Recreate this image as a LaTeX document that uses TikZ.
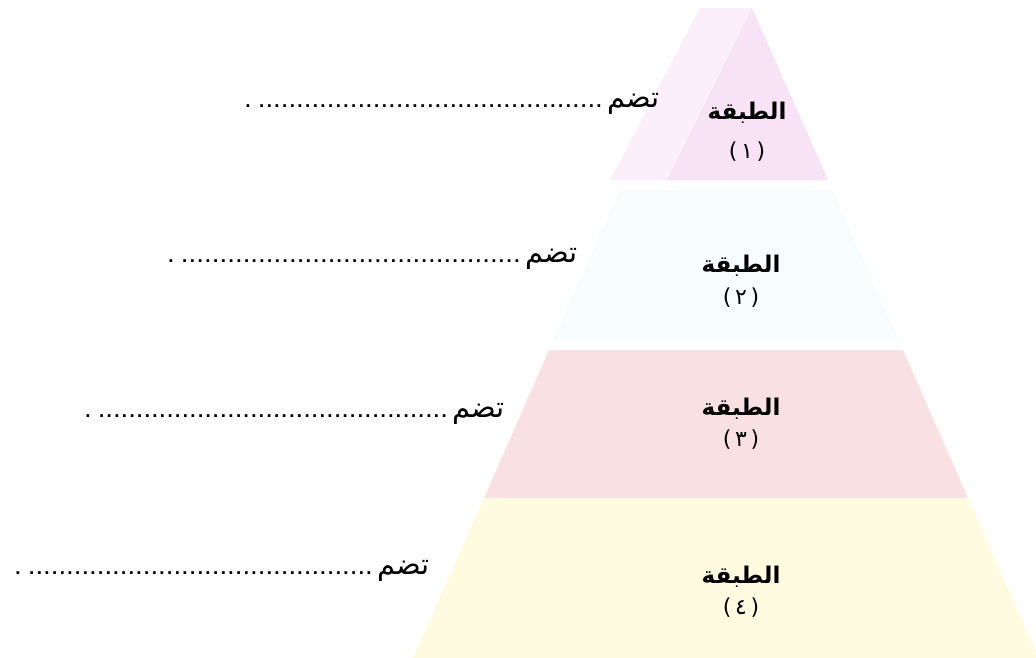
\documentclass[tikz,border=0pt]{standalone}
\usepackage{fontspec}
\TeXXeTstate=1
\newfontfamily\arabicfont[Script=Arabic]{DejaVu Sans}
\newfontfamily\numfont{DejaVu Sans}
\usetikzlibrary{positioning}

\definecolor{layerone}{RGB}{251,240,250}
\definecolor{layeronedark}{RGB}{247,227,245}
\definecolor{layertwo}{RGB}{247,252,253}
\definecolor{layerthree}{RGB}{249,224,226}
\definecolor{layerfour}{RGB}{255,251,224}

% a row of dots to write in
\newcommand{\dotrow}[1]{\hbox to #1{\xleaders\hbox to 7.6pt{\hss.\hss}\hfill}}

\tikzset{
  title/.style={font=\arabicfont\bfseries\fontsize{23}{27}\selectfont, inner sep=0pt},
  number/.style={font=\numfont\fontsize{22}{26}\selectfont, inner sep=0pt},
  holds/.style={font=\arabicfont\fontsize{29}{33}\selectfont, inner sep=0pt, anchor=base east},
  blank/.style={font=\numfont\bfseries\fontsize{15}{18}\selectfont, inner sep=0pt, anchor=base east},
}

\begin{document}
\begin{tikzpicture}[x=1pt,y=-1pt]
    \useasboundingbox (0,0) rectangle (1036,658);

    \fill[layerone]     (700,8) -- (752,8) -- (828,180) -- (610,180) -- cycle;
    \fill[layeronedark] (752,8) -- (828,180) -- (667,180) -- cycle;
    \fill[layertwo]     (620,190) -- (832,190) -- (899,340) -- (553,340) -- cycle;
    \fill[layerthree]   (549,350) -- (903,350) -- (968,498) -- (484,498) -- cycle;
    \fill[layerfour]    (484,498) -- (968,498) -- (1039,658) -- (413,658) -- cycle;

    \node[title]  (t1) at (747,113) {\beginR الطبقة\endR};
    \node[number] (n1) at (747,152) {(\,١\,)};
    \node[title]  (t2) at (741,266) {\beginR الطبقة\endR};
    \node[number] (n2) at (741,298) {(\,٢\,)};
    \node[title]  (t3) at (741,409) {\beginR الطبقة\endR};
    \node[number] (n3) at (741,440) {(\,٣\,)};
    \node[title]  (t4) at (741,577) {\beginR الطبقة\endR};
    \node[number] (n4) at (741,608) {(\,٤\,)};

    \node[holds] (h1) at (660,108) {\beginR تضم\endR};
    \node[blank] (d1) [left=4pt of h1.base west, anchor=base east] {. \dotrow{345pt}};
    \node[holds] (h2) at (578,262) {\beginR تضم\endR};
    \node[blank] (d2) [left=4pt of h2.base west, anchor=base east] {. \dotrow{340pt}};
    \node[holds] (h3) at (505,417) {\beginR تضم\endR};
    \node[blank] (d3) [left=4pt of h3.base west, anchor=base east] {. \dotrow{350pt}};
    \node[holds] (h4) at (430,574) {\beginR تضم\endR};
    \node[blank] (d4) [left=4pt of h4.base west, anchor=base east] {. \dotrow{345pt}};
\end{tikzpicture}
\end{document}
